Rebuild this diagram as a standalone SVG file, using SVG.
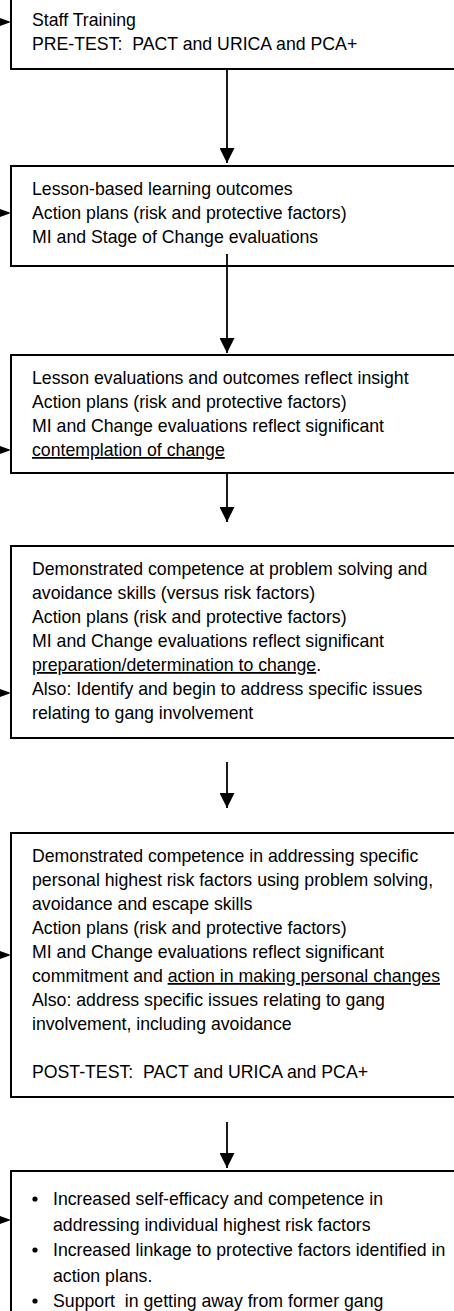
<svg xmlns="http://www.w3.org/2000/svg" width="454" height="1311" viewBox="0 0 454 1311">
<style>
.box{fill:#fff;stroke:#000;stroke-width:2}
.t{font-family:"Liberation Sans",Arial,Helvetica,sans-serif;font-size:17.7px;fill:#000;white-space:pre}
.u{text-decoration:underline}
.conn{stroke:#000;stroke-width:1.8;fill:none}
.inarr{fill:#000}
</style>
<defs>
<marker id="ah" markerUnits="userSpaceOnUse" markerWidth="15" markerHeight="15" refX="15" refY="7.5" orient="auto">
<path d="M0,0 L15,7.5 L0,15 Z" fill="#000"/>
</marker>
</defs>
<rect width="454" height="1311" fill="#fff"/>
<g id="n1">
<rect class="box" x="11" y="-10" width="460" height="79"/>
<text class="t" x="32" y="26">Staff Training</text>
<text class="t" x="32" y="50">PRE-TEST:  PACT and URICA and PCA+</text>
</g>
<g id="n2">
<rect class="box" x="11" y="166" width="460" height="100"/>
<text class="t" x="32" y="195">Lesson-based learning outcomes</text>
<text class="t" x="32" y="219">Action plans (risk and protective factors)</text>
<text class="t" x="32" y="243">MI and Stage of Change evaluations</text>
</g>
<g id="n3">
<rect class="box" x="11" y="355" width="460" height="118"/>
<text class="t" x="32" y="384">Lesson evaluations and outcomes reflect insight</text>
<text class="t" x="32" y="408">Action plans (risk and protective factors)</text>
<text class="t" x="32" y="432">MI and Change evaluations reflect significant</text>
<text class="t" x="32" y="456"><tspan class="u">contemplation of change</tspan></text>
</g>
<g id="n4">
<rect class="box" x="11" y="546" width="460" height="192"/>
<text class="t" x="32" y="575">Demonstrated competence at problem solving and</text>
<text class="t" x="32" y="599">avoidance skills (versus risk factors)</text>
<text class="t" x="32" y="623">Action plans (risk and protective factors)</text>
<text class="t" x="32" y="647">MI and Change evaluations reflect significant</text>
<text class="t" x="32" y="671"><tspan class="u">preparation/determination to change</tspan>.</text>
<text class="t" x="32" y="695">Also: Identify and begin to address specific issues</text>
<text class="t" x="32" y="719">relating to gang involvement</text>
</g>
<g id="n5">
<rect class="box" x="11" y="833" width="460" height="264"/>
<text class="t" x="32" y="862">Demonstrated competence in addressing specific</text>
<text class="t" x="32" y="886">personal highest risk factors using problem solving,</text>
<text class="t" x="32" y="910">avoidance and escape skills</text>
<text class="t" x="32" y="934">Action plans (risk and protective factors)</text>
<text class="t" x="32" y="958">MI and Change evaluations reflect significant</text>
<text class="t" x="32" y="982">commitment and <tspan class="u">action in making personal changes</tspan></text>
<text class="t" x="32" y="1006">Also: address specific issues relating to gang</text>
<text class="t" x="32" y="1030">involvement, including avoidance</text>
<text class="t" x="32" y="1078">POST-TEST:  PACT and URICA and PCA+</text>
</g>
<g id="n6">
<rect class="box" x="11" y="1171" width="460" height="160"/>
<circle class="inarr" cx="35" cy="1199" r="2.6"/>
<text class="t" x="53" y="1205">Increased self-efficacy and competence in</text>
<text class="t" x="53" y="1230.5">addressing individual highest risk factors</text>
<circle class="inarr" cx="35" cy="1250" r="2.6"/>
<text class="t" x="53" y="1256">Increased linkage to protective factors identified in</text>
<text class="t" x="53" y="1281.5">action plans.</text>
<circle class="inarr" cx="35" cy="1301" r="2.6"/>
<text class="t" x="53" y="1307">Support  in getting away from former gang</text>
</g>
<g id="connectors">
<line class="conn" x1="227" y1="69" x2="227" y2="163" marker-end="url(#ah)"/>
<line class="conn" x1="227" y1="254" x2="227" y2="353" marker-end="url(#ah)"/>
<line class="conn" x1="227" y1="473" x2="227" y2="522" marker-end="url(#ah)"/>
<line class="conn" x1="227" y1="762" x2="227" y2="808" marker-end="url(#ah)"/>
<line class="conn" x1="227" y1="1122" x2="227" y2="1168" marker-end="url(#ah)"/>
<polygon class="inarr" points="0,18 11,22 0,26"/>
<polygon class="inarr" points="0,209 11,213 0,217"/>
<polygon class="inarr" points="0,446 11,450 0,454"/>
<polygon class="inarr" points="0,689 11,693 0,697"/>
<polygon class="inarr" points="0,951 11,955 0,959"/>
<polygon class="inarr" points="0,1216 11,1220 0,1224"/>
</g>
</svg>
